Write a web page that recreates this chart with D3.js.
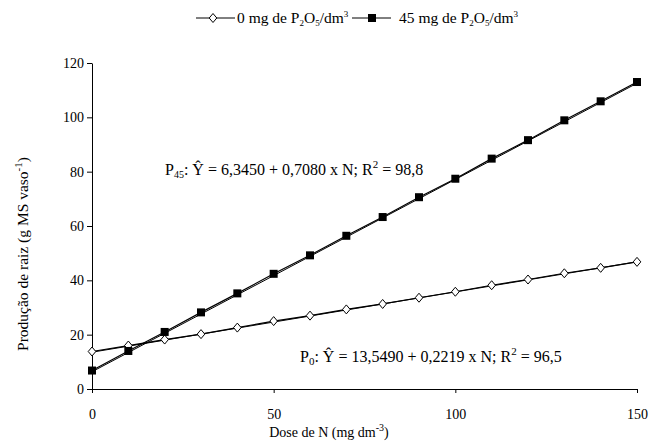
<!DOCTYPE html>
<html>
<head>
<meta charset="utf-8">
<script src="https://cdn.jsdelivr.net/npm/d3@7"></script>
<style>
  body { margin: 0; background: #fff; }
  text { font-family: "Liberation Serif", "Times New Roman", serif; fill: #000; }
</style>
</head>
<body>
<div id="chart"></div>
<script>
// doses of N (mg dm-3)
var doses = [0, 10, 20, 30, 40, 50, 60, 70, 80, 90, 100, 110, 120, 130, 140, 150];
// 0 mg de P2O5/dm3
var p0 = [13.8, 16.0, 18.2, 20.2, 22.6, 25.0, 27.0, 29.3, 31.3, 33.6, 35.8, 38.2, 40.3, 42.6, 44.6, 46.8];
// 45 mg de P2O5/dm3
var p45 = [6.8, 14.0, 21.0, 28.2, 35.2, 42.4, 49.2, 56.4, 63.3, 70.6, 77.4, 84.8, 91.6, 98.9, 105.9, 113.0];
// regression coefficients [intercept, slope]
var fit0 = [13.549, 0.2219];
var fit45 = [6.345, 0.708];
var xTicks = [0, 50, 100, 150];
var yTicks = [0, 20, 40, 60, 80, 100, 120];

function drawChart() {
    const width = 651;
    const height = 447;

    var svg = d3.select("#chart")
        .append("svg")
        .attr("width", width)
        .attr("height", height);

    var x = d3.scaleLinear().domain([0, 150]).range([92, 637]);
    var y = d3.scaleLinear().domain([0, 120]).range([389, 63]);

    // axes
    svg.append("g")
        .attr("transform", "translate(0,389)")
        .call(d3.axisBottom(x).tickValues(xTicks).tickSize(4).tickSizeOuter(0).tickPadding(16))
        .call(g => g.selectAll("text").attr("font-size", 14).attr("font-family", "Liberation Serif"));

    svg.append("g")
        .attr("transform", "translate(92,0)")
        .call(d3.axisLeft(y).tickValues(yTicks).tickSize(5).tickSizeOuter(0).tickPadding(3))
        .call(g => g.selectAll("text").attr("font-size", 14).attr("font-family", "Liberation Serif"));

    svg.selectAll(".domain, .tick line").attr("stroke", "#000");

    // regression lines
    [fit0, fit45].forEach(function(f) {
        svg.append("line")
            .attr("x1", x(0)).attr("y1", y(f[0]))
            .attr("x2", x(150)).attr("y2", y(f[0] + f[1] * 150))
            .attr("stroke", "#000").attr("stroke-width", 1);
    });

    var line = d3.line()
        .x(function(d, i) { return x(doses[i]); })
        .y(function(d) { return y(d); });

    svg.append("path").datum(p0).attr("d", line)
        .attr("fill", "none").attr("stroke", "#000").attr("stroke-width", 1.2);
    svg.append("path").datum(p45).attr("d", line)
        .attr("fill", "none").attr("stroke", "#000").attr("stroke-width", 1.2);

    var diamond = "M0,-4.5L3.8,0L0,4.5L-3.8,0Z";

    svg.selectAll(".d0")
        .data(p0)
        .enter().append("path")
        .attr("class", "d0")
        .attr("d", diamond)
        .attr("transform", function(d, i) { return "translate(" + x(doses[i]) + "," + y(d) + ")"; })
        .attr("fill", "#fff").attr("stroke", "#000").attr("stroke-width", 1);

    svg.selectAll(".s45")
        .data(p45)
        .enter().append("rect")
        .attr("class", "s45")
        .attr("x", function(d, i) { return x(doses[i]) - 4; })
        .attr("y", function(d) { return y(d) - 4; })
        .attr("width", 8).attr("height", 8)
        .attr("fill", "#000");

    // axis titles
    var xt = svg.append("text")
        .attr("x", 329).attr("y", 437)
        .attr("text-anchor", "middle").attr("font-size", 14);
    xt.append("tspan").text("Dose de N (mg dm");
    xt.append("tspan").attr("dy", -6).attr("font-size", 10).text("-3");
    xt.append("tspan").attr("dy", 6).text(")");

    var yt = svg.append("text")
        .attr("transform", "translate(28,254) rotate(-90)")
        .attr("text-anchor", "middle").attr("font-size", 15.5);
    yt.append("tspan").text("Produção de raiz (g MS vaso");
    yt.append("tspan").attr("dy", -6).attr("font-size", 11).text("-1");
    yt.append("tspan").attr("dy", 6).text(")");

    // equations
    var e45 = svg.append("text").attr("x", 165).attr("y", 175).attr("font-size", 16);
    e45.append("tspan").text("P");
    e45.append("tspan").attr("dy", 3).attr("font-size", 10).text("45");
    e45.append("tspan").attr("dy", -3).text(":  Ŷ = 6,3450 + 0,7080 x N; R");
    e45.append("tspan").attr("dy", -7).attr("font-size", 11).text("2");
    e45.append("tspan").attr("dy", 7).text(" = 98,8");

    var e0 = svg.append("text").attr("x", 300).attr("y", 362).attr("font-size", 16);
    e0.append("tspan").text("P");
    e0.append("tspan").attr("dy", 3).attr("font-size", 11).text("0");
    e0.append("tspan").attr("dy", -3).text(":  Ŷ = 13,5490 + 0,2219 x N; R");
    e0.append("tspan").attr("dy", -7).attr("font-size", 11).text("2");
    e0.append("tspan").attr("dy", 7).text(" = 96,5");

    // legend
    var leg = svg.append("g").attr("transform", "translate(0,18)");
    leg.append("line").attr("x1", 196).attr("x2", 235).attr("stroke", "#000");
    leg.append("path").attr("d", diamond).attr("transform", "translate(213,0)")
        .attr("fill", "#fff").attr("stroke", "#000");
    var l0 = leg.append("text").attr("x", 237).attr("y", 5).attr("font-size", 15.5);
    l0.append("tspan").text("0 mg de P");
    l0.append("tspan").attr("dy", 3).attr("font-size", 9).text("2");
    l0.append("tspan").attr("dy", -3).text("O");
    l0.append("tspan").attr("dy", 3).attr("font-size", 9).text("5");
    l0.append("tspan").attr("dy", -3).text("/dm");
    l0.append("tspan").attr("dy", -6).attr("font-size", 9).text("3");

    leg.append("line").attr("x1", 352).attr("x2", 391).attr("stroke", "#000");
    leg.append("rect").attr("x", 368).attr("y", -4).attr("width", 8).attr("height", 8).attr("fill", "#000");
    var l45 = leg.append("text").attr("x", 399).attr("y", 5).attr("font-size", 15.5);
    l45.append("tspan").text("45 mg de P");
    l45.append("tspan").attr("dy", 3).attr("font-size", 9).text("2");
    l45.append("tspan").attr("dy", -3).text("O");
    l45.append("tspan").attr("dy", 3).attr("font-size", 9).text("5");
    l45.append("tspan").attr("dy", -3).text("/dm");
    l45.append("tspan").attr("dy", -6).attr("font-size", 9).text("3");
}

drawChart();
</script>
</body>
</html>
